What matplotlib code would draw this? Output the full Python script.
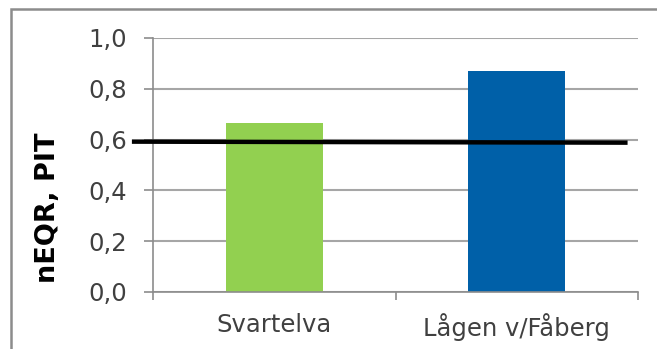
import matplotlib
matplotlib.use("Agg")
import matplotlib.pyplot as plt
from matplotlib.patches import Rectangle

# Data
categories = ["Svartelva", "Lågen v/Fåberg"]
values = [0.665, 0.87]
bar_colors = ["#92D050", "#0060A8"]
yticks = [0.0, 0.2, 0.4, 0.6, 0.8, 1.0]
ytick_labels = ["0,0", "0,2", "0,4", "0,6", "0,8", "1,0"]
# reference line (x in category units, y in nEQR)
ref_x = [-0.087, 1.957]
ref_y = [0.592, 0.588]

W, H = 657, 349
fig = plt.figure(figsize=(W / 100, H / 100), dpi=100)
fig.patch.set_facecolor("white")

# chart frame
fig.patches.append(Rectangle((10.5 / W, -0.1), 1.2, (H - 9.5) / H + 0.1,
                             transform=fig.transFigure, fill=False,
                             edgecolor="#8c8c8c", linewidth=1.8, zorder=0))

ax = fig.add_axes([153 / W, (H - 292) / H, (638 - 153) / W, (292 - 38) / H])
xc = [i + 0.5 for i in range(len(categories))]
ax.bar(xc, values, width=0.4, color=bar_colors, zorder=2)
ax.set_xlim(0, 2)
ax.set_ylim(0, 1.0)

ax.set_yticks(yticks)
ax.set_yticklabels(ytick_labels)
ax.set_xticks(xc)
ax.set_xticklabels(categories)
ax.set_xticks([0, 1, 2], minor=True)
ax.tick_params(axis="x", which="major", length=0, pad=15)
ax.tick_params(axis="x", which="minor", length=6, width=1.2, color="#8c8c8c")
ax.tick_params(axis="y", length=6.5, width=1.2, color="#8c8c8c", pad=12)

for t in ax.get_xticklabels() + ax.get_yticklabels():
    t.set_fontfamily(["DejaVu Sans"])
    t.set_fontsize(17.5)
    t.set_color("#404040")

ax.grid(axis="y", color="#a6a6a6", linewidth=1.5, zorder=0)
ax.set_axisbelow(True)
for s in ["top", "right"]:
    ax.spines[s].set_visible(False)
ax.spines["left"].set_color("#8c8c8c")
ax.spines["left"].set_linewidth(1.2)
ax.spines["bottom"].set_color("#8c8c8c")
ax.spines["bottom"].set_linewidth(1.2)

ax.plot(ref_x, ref_y, color="black", linewidth=3.2, solid_capstyle="butt",
        clip_on=False, zorder=3)

ax.set_ylabel("nEQR, PIT", fontsize=19.5, fontweight="bold", family="DejaVu Sans")
ax.yaxis.set_label_coords(-0.19, 0.333)

fig.savefig("out.png", dpi=100)
